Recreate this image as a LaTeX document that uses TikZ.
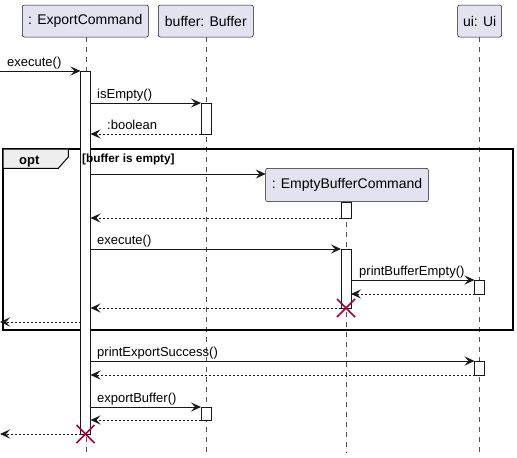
\documentclass[tikz,border=0pt]{standalone}
\usepackage{fontspec}
\setmainfont{Liberation Sans}
\usetikzlibrary{arrows.meta}
\definecolor{partfill}{HTML}{E2E2F0}
\definecolor{ink}{HTML}{181818}
\definecolor{tabfill}{HTML}{EEEEEE}
\definecolor{killred}{HTML}{A80036}
\tikzset{
  participant/.style={draw=ink, line width=0.5pt, fill=partfill, rounded corners=2pt,
    inner sep=0pt, outer sep=0pt, font=\fontsize{14}{16}\selectfont},
  lifeline/.style={draw=ink!75, line width=0.5pt, dash pattern=on 5pt off 5pt},
  actbar/.style={draw=ink, line width=0.8pt, fill=white, minimum width=10pt,
    inner sep=0pt, outer sep=0pt},
  msg/.style={draw=ink, line width=0.8pt, -{Stealth[length=10pt,width=9pt,inset=4pt]}},
  ret/.style={msg, dash pattern=on 2pt off 2pt},
  msglabel/.style={anchor=base west, inner sep=0pt, font=\fontsize{13}{15}\selectfont},
  killmark/.style={draw=killred, line width=1.6pt},
  frame/.style={draw=black, line width=1.5pt}
}
\begin{document}
\begin{tikzpicture}[x=1pt, y=-1pt]
  \useasboundingbox (0,0) rectangle (517,458);

  % participants
  \node[participant, minimum width=126pt, minimum height=32pt] (ec)  at (85.3,21)  {: ExportCommand};
  \node[participant, minimum width=95pt,  minimum height=32pt] (buf) at (205.8,21) {buffer: Buffer};
  \node[participant, minimum width=44pt,  minimum height=32pt] (ui)  at (479.7,21) {ui: Ui};

  % lifelines
  \coordinate (ecEnd)  at (86,452);
  \coordinate (bufEnd) at (206.5,452);
  \coordinate (uiEnd)  at (479.5,452);
  \draw[lifeline] (ec.south -| ecEnd) -- (ecEnd);
  \draw[lifeline] (buf.south -| bufEnd) -- (bufEnd);
  \draw[lifeline] (ui.south -| uiEnd) -- (uiEnd);

  % created participant
  \node[participant, minimum width=162.6pt, minimum height=33.4pt] (ebc) at (347,185) {: EmptyBufferCommand};
  \coordinate (ebcEnd) at (346,452);
  \draw[lifeline] (ebc.south -| ebcEnd) -- (ebcEnd);

  % opt fragment
  \draw[frame] (3,149) rectangle (513,330);
  \draw[frame, fill=tabfill, line width=1pt] (3,149) -- (68.3,149) -- (68.3,157) -- (58.3,168.3) -- (3,168.3) -- cycle;
  \node[anchor=base west, inner sep=0pt, font=\fontsize{13}{15}\selectfont\bfseries] (optlbl) at (19,164) {opt};

  % activation bars
  \node[actbar, minimum height=363pt] (aEC)   at (85.5,252.5) {};
  \node[actbar, minimum height=31pt]  (aBuf1) at (206,118.5) {};
  \node[actbar, minimum height=16pt]  (aEBC1) at (346,210) {};
  \node[actbar, minimum height=59pt]  (aEBC2) at (346,278.5) {};
  \node[actbar, minimum height=14pt]  (aUi1)  at (479.5,287) {};
  \node[actbar, minimum height=14pt]  (aUi2)  at (479.5,368) {};
  \node[actbar, minimum height=13pt]  (aBuf2) at (206,413.5) {};

  % guard of the fragment, set over the activation bar
  \node[anchor=base west, inner sep=0pt, font=\fontsize{11.8}{14}\selectfont\bfseries] (guard) at (82,162.5) {[buffer is empty]};

  % outside end points
  \coordinate (in1)  at (0,71);
  \coordinate (out1) at (0,322);
  \coordinate (out2) at (0,434);

  % messages
  \draw[msg] (in1) -- (aEC.north west);
  \node[msglabel] (l1) at (7,66) {execute()};

  \draw[msg] (aEC.east |- aBuf1.north) -- (aBuf1.north west);
  \node[msglabel] (l2) at (97,98) {isEmpty()};
  \draw[ret] (aBuf1.south west) -- (aEC.east |- aBuf1.south);
  \node[msglabel] (l3) at (107,129) {:boolean};

  \coordinate (cr) at (90.5,174);
  \draw[msg] (cr) -- (ebc.west |- cr);
  \draw[ret] (aEBC1.south west) -- (aEC.east |- aEBC1.south);

  \draw[msg] (aEC.east |- aEBC2.north) -- (aEBC2.north west);
  \node[msglabel] (l4) at (97,244) {execute()};

  \draw[msg] (aEBC2.east |- aUi1.north) -- (aUi1.north west);
  \node[msglabel] (l5) at (359,275) {printBufferEmpty()};
  \draw[ret] (aUi1.south west) -- (aEBC2.east |- aUi1.south);

  \draw[ret] (aEBC2.south west) -- (aEC.east |- aEBC2.south);
  \draw[killmark] ([shift={(-9,-9)}]aEBC2.south) -- ([shift={(9,9)}]aEBC2.south)
                  ([shift={(-9,9)}]aEBC2.south) -- ([shift={(9,-9)}]aEBC2.south);

  \draw[ret] (aEC.west |- out1) -- (out1);

  \draw[msg] (aEC.east |- aUi2.north) -- (aUi2.north west);
  \node[msglabel] (l6) at (97,356) {printExportSuccess()};
  \draw[ret] (aUi2.south west) -- (aEC.east |- aUi2.south);

  \draw[msg] (aEC.east |- aBuf2.north) -- (aBuf2.north west);
  \node[msglabel] (l7) at (97,402) {exportBuffer()};
  \draw[ret] (aBuf2.south west) -- (aEC.east |- aBuf2.south);

  \draw[ret] (aEC.south west) -- (out2);
  \draw[killmark] ([shift={(-9,-9)}]aEC.south) -- ([shift={(9,9)}]aEC.south)
                  ([shift={(-9,9)}]aEC.south) -- ([shift={(9,-9)}]aEC.south);
\end{tikzpicture}
\end{document}
